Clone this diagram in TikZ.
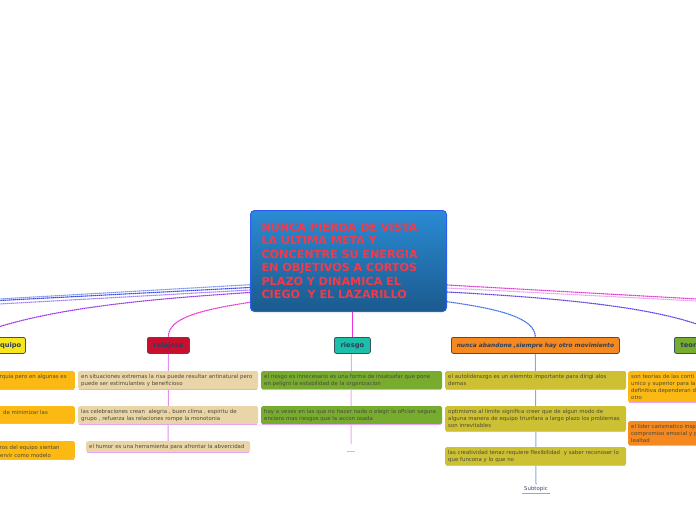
\documentclass[tikz,border=0pt]{standalone}
\usepackage{fontspec}
\setmainfont{DejaVu Sans}
\usetikzlibrary{backgrounds}
\definecolor{titlered}{HTML}{F23A4A}
\definecolor{ctop}{HTML}{2A8BD3}
\definecolor{cbot}{HTML}{1B5A8E}
\definecolor{cborder}{HTML}{2D5CF2}
\definecolor{tborder}{HTML}{3B5463}
\definecolor{topictext}{HTML}{2E3E5E}
\definecolor{cyellow}{HTML}{F7E61C}
\definecolor{ccrimson}{HTML}{C8102E}
\definecolor{cteal}{HTML}{1CBFA7}
\definecolor{corange}{HTML}{F5891F}
\definecolor{cgreen}{HTML}{78AC2F}
\definecolor{cgold}{HTML}{FDB913}
\definecolor{ctan}{HTML}{E9D5A7}
\definecolor{colive}{HTML}{CDC032}
\definecolor{subtext}{HTML}{4A4A3C}
\definecolor{lnlblue}{HTML}{7F92FF}
\definecolor{lnmblue}{HTML}{2F4BF0}
\definecolor{lnlviolet}{HTML}{A77CFF}
\definecolor{lnviolet}{HTML}{9B30F0}
\definecolor{lnmagenta}{HTML}{EC30DA}
\definecolor{lnlpink}{HTML}{EE9CF4}
\definecolor{lnvblue}{HTML}{5E3EF0}
\definecolor{lncblue}{HTML}{3F6EF0}
\definecolor{ulpink}{HTML}{E4A6F4}
\definecolor{ulblue}{HTML}{B9C4E8}
\definecolor{colpink}{HTML}{E48CF4}
\definecolor{colrpink}{HTML}{F4A4EA}
\definecolor{colblue}{HTML}{8CA6E6}
\definecolor{subblue}{HTML}{3A4A6A}
\begin{document}
\begin{tikzpicture}[x=1pt,y=-1pt,
  conn/.style={line width=1.1pt, dash pattern=on 1.5pt off 0.5pt},
  topic/.style={draw=tborder, line width=0.8pt, rounded corners=2pt, minimum height=16pt,
    inner sep=0pt, anchor=north west, font=\fontsize{6.7}{8}\selectfont\bfseries, text=topictext},
  sub/.style={rounded corners=1.5pt, inner xsep=3pt, inner ysep=0pt, align=left,
    anchor=north west, font=\fontsize{5.4}{7}\selectfont, text=subtext},
  frag/.style={inner sep=0pt, anchor=west, font=\fontsize{5.4}{7}\selectfont, text=subtext},
  colline/.style={line width=1pt}
]
\useasboundingbox (0,0) rectangle (696,520);

% central topic
\node[draw=cborder, line width=1pt, rounded corners=4pt, top color=ctop, bottom color=cbot,
  minimum width=196pt, minimum height=101pt, inner xsep=11pt, text width=174pt, align=left,
  anchor=north west, font=\fontsize{11.2}{13.4}\selectfont\bfseries, text=titlered] (c) at (250,210)
  {NUNCA PIERDA DE VISTA\\LA ULTIMA META Y\\CONCENTRE SU ENERGIA\\EN OBJETIVOS A CORTOS\\PLAZO Y DINAMICA EL\\CIEGO~ Y EL LAZARILLO};

% main topics
\node[topic, fill=cyellow, minimum width=34pt] (equ) at (-9,337) {equipo};
\node[topic, fill=ccrimson, minimum width=42pt] (rel) at (147,337) {relajese};
\node[topic, fill=cteal, minimum width=36pt] (ries) at (334,337) {riesgo};
\node[topic, fill=corange, minimum width=168pt, font=\fontsize{5.9}{7}\selectfont\bfseries\itshape] (nun) at (451,337) {nunca abandone ,siempre hay otro movimiento};
\node[topic, fill=cgreen, minimum width=39pt] (teo) at (674,337) {teorias};

% equipo subtopics (cut at the left edge)
\node[sub, fill=cgold, anchor=north east, minimum width=120pt, minimum height=18pt] (e1) at (75,371) {};
\node[sub, fill=cgold, anchor=north east, minimum width=120pt, minimum height=17pt] (e2) at (75,406) {};
\node[sub, fill=cgold, anchor=north east, minimum width=120pt, minimum height=18pt] (e3) at (75,441) {};
\node[frag] (e1a) at (-0.5,376.7) {rquia pero en algunas es};
\node[frag] (e2a) at (3,412.3) {de minimizar las};
\node[frag] (e3a) at (-0.5,447.7) {ros del equipo sientan};
\node[frag] (e3b) at (0,455) {ervir como modelo};

% relajese subtopics
\node[sub, fill=ctan, minimum height=18pt, text width=174pt] (r1) at (78,371)
  {\mbox{en situaciones extremas la risa puede resultar antinatural pero}\\puede ser estimulantes y beneficioso};
\node[sub, fill=ctan, minimum height=18pt, text width=174pt] (r2) at (78,406)
  {\mbox{las celebraciones crean~ alegria , buen clima , espiritu de}\\\mbox{grupo , refuerza las relaciones rompe la monotonia}};
\node[sub, fill=ctan, minimum height=11pt, text width=158pt] (r3) at (86,441)
  {\mbox{el humor es una herramienta para afrontar la abvercidad}};

% riesgo subtopics
\node[sub, fill=cgreen, minimum height=18pt, text width=175pt] (g1) at (261,371)
  {\mbox{el riesgo es innecesario es una forma de insatsafar \raisebox{-0.8pt}{que pone}}\\en peligro la estabilidad de la organizacion};
\node[sub, fill=cgreen, minimum height=18pt, text width=175pt] (g2) at (261,406)
  {\mbox{hay a veses en las que no hacer nada o elegir la o\raisebox{-0.8pt}{Pcion segura}}\\enciera mas riesgos que la accon osada};
\coordinate (gend) at (351,444);
\coordinate (gempty) at (351,451);

% nunca abandone subtopics
\node[sub, fill=colive, minimum height=18pt, text width=175pt] (n1) at (445,371)
  {\mbox{el autoliderazgo es un elemnto importante para dirigi alos}\\demas};
\node[sub, fill=colive, minimum height=25pt, text width=175pt] (n2) at (445,406)
  {\mbox{optimismo al limite significa creer que de algun modo de}\\\mbox{alguna manera de equipo triunfara a largo plazo los problemas}\\son inrevitables};
\node[sub, fill=colive, minimum height=18pt, text width=175pt] (n3) at (445,447)
  {\mbox{las creatividad tenaz requiere flexibilidad~ y saber reconoser lo}\\que funcona y lo que no};
\node[inner xsep=2pt, inner ysep=1.5pt, font=\fontsize{5.4}{7}\selectfont, text=subblue] (st) at (536,489) {Subtopic};

% teorias subtopics (cut at the right edge)
\node[sub, fill=cgold, minimum height=31pt, minimum width=100pt, text width=94pt] (t1) at (628,371)
  {son teorias de las conti\\unico y superior para la\\definitiva dependeran d\\otro};
\node[sub, fill=corange, minimum height=24pt, minimum width=100pt, text width=94pt] (t2) at (628,421)
  {el lider carismatico insp\\compromiso emocial y p\\lealtad};

% off-page ends of connectors
\coordinate (la) at (-10,299.5);
\coordinate (lb) at (-10,301);
\coordinate (lc) at (-10,304.5);
\coordinate (ld) at (-30,337);
\coordinate (re) at (706,299.5);
\coordinate (rf) at (706,301.5);
\coordinate (rg) at (725,337);

\begin{scope}[on background layer]
  \draw[conn, lnlblue] (c.west |- 0,284.7) -- (la);
  \draw[conn, lnmblue] (c.west |- 0,287.5) -- (lb);
  \draw[conn, lnlviolet] (c.west |- 0,290) -- (lc);
  \draw[conn, lnviolet] (c.west |- 0,292.5) .. controls (150,299) and (40,308) .. (ld);
  \draw[conn, lnmagenta] (c.west |- 0,302.3) .. controls (200,310) and (168,318) .. (rel.north);
  \draw[conn, lnmagenta] (ries.north |- c.south) -- (ries.north);
  \draw[conn, lncblue] (c.east |- 0,301.7) .. controls (500,309) and (535,318) .. (nun.north);
  \draw[conn, lnmagenta] (c.east |- 0,285) -- (re);
  \draw[conn, lnlpink] (c.east |- 0,288) -- (rf);
  \draw[conn, lnvblue] (c.east |- 0,292) .. controls (560,298) and (680,308) .. (rg);
  % column lines
  \draw[colline, colpink] (rel.south) -- (r3.north);
  \draw[colline, colrpink] ([xshift=-1pt]ries.south) -- (gend);
  \draw[colline, colrpink] ([xshift=-4pt]gempty) -- ([xshift=4pt]gempty);
  \draw[colline, colblue] (nun.south) -- (st.north);
\end{scope}

% underlines of subtopics
\foreach \n in {e1,e2,e3,r1,r2,r3,g1,g2,t1,t2}
  \draw[ulpink, line width=0.7pt] ([xshift=1pt]\n.south west) -- ([xshift=-1pt]\n.south east);
\foreach \n in {n1,n2,n3}
  \draw[ulblue, line width=0.7pt] ([xshift=1pt]\n.south west) -- ([xshift=-1pt]\n.south east);
\draw[colblue, line width=0.7pt] (st.south west) -- (st.south east);
\end{tikzpicture}
\end{document}
